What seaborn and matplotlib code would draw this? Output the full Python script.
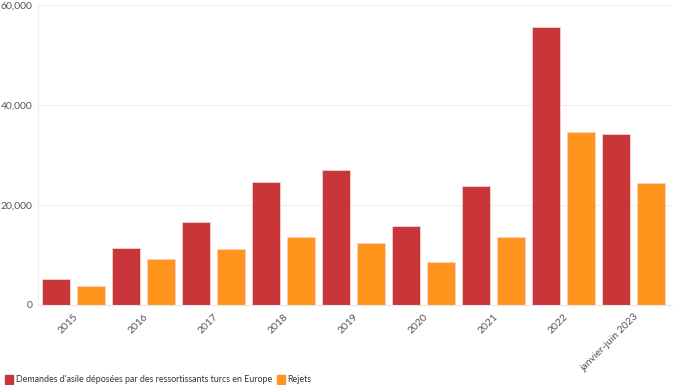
import pandas as pd
import seaborn as sns
from matplotlib import pyplot as plt
from matplotlib.ticker import FuncFormatter
from matplotlib.patches import FancyBboxPatch

years = ["2015", "2016", "2017", "2018", "2019", "2020", "2021", "2022", "janvier-juin 2023"]
demandes = [5200, 11400, 16600, 24600, 27000, 15800, 23800, 55500, 34100]
rejets = [3800, 9200, 11200, 13600, 12500, 8600, 13600, 34500, 24300]

lab_dem = "Demandes d'asile déposées par des ressortissants turcs en Europe"
lab_rej = "Rejets"

df = pd.DataFrame({"year": years * 2,
                   "value": demandes + rejets,
                   "serie": [lab_dem] * len(years) + [lab_rej] * len(years)})

sns.set_style("white")
plt.rcParams['font.family'] = ['Lato', 'DejaVu Sans']

fig = plt.figure(figsize=(6.85, 3.85), dpi=100)
ax = fig.add_axes([38/685, 80/385, 634/685, 300/385])

sns.barplot(data=df, x="year", y="value", hue="serie", ax=ax,
            palette=["#c8363a", "#ff951c"], saturation=1, width=1.0, gap=0.2,
            edgecolor="#f6d0cc", linewidth=0.6, legend=False)

ax.set_ylim(0, 60000)
ax.set_xlim(-0.51, 8.55)
ax.set_yticks([0, 20000, 40000, 60000])
ax.yaxis.set_major_formatter(FuncFormatter(lambda v, p: f"{int(v):,}"))
ax.grid(axis="y", color="#eeeeee", linewidth=0.8)
ax.set_axisbelow(True)
ax.set_xlabel("")
ax.set_ylabel("")

for s in ["top", "right"]:
    ax.spines[s].set_visible(False)
ax.spines["left"].set_color("#eeeeee")
ax.spines["bottom"].set_color("#e6e6e6")

ax.tick_params(axis="y", length=0, labelsize=7.5, labelcolor="#555555", pad=4)
ax.tick_params(axis="x", length=4, color="#e6e6e6", labelsize=7.5, labelcolor="#555555", pad=1)
plt.setp(ax.get_xticklabels(), rotation=45, ha="right", rotation_mode="anchor")

# legend at bottom left
handles = [FancyBboxPatch((0, 0), 1, 1, boxstyle="round,pad=0.1", color="#c8363a"),
           FancyBboxPatch((0, 0), 1, 1, boxstyle="round,pad=0.1", color="#ff951c")]
fig.legend(handles, [lab_dem, lab_rej], loc="lower left", bbox_to_anchor=(0.0, -0.012),
           ncol=2, frameon=False, fontsize=6.4, handlelength=0.9, handleheight=1.1,
           handletextpad=0.3, columnspacing=0.5, borderaxespad=0.2,
           labelcolor="#333333")

fig.savefig("out.png", dpi=100)
